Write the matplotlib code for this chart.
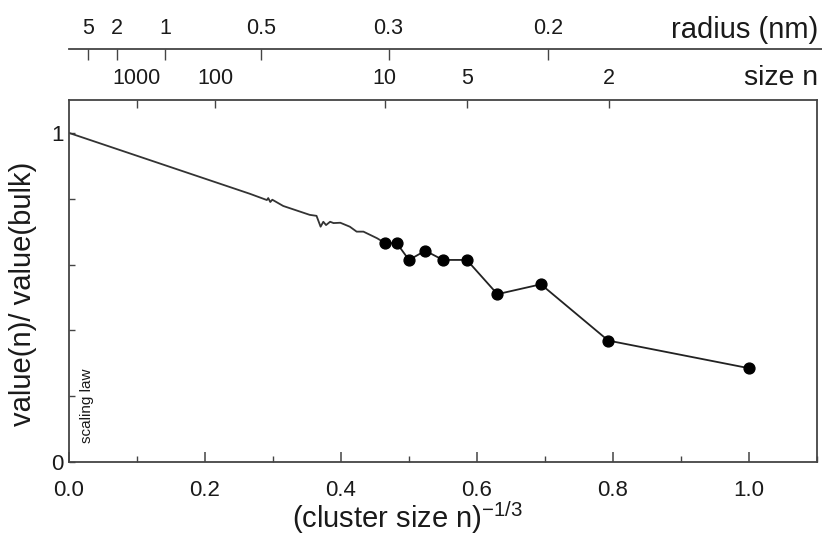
import matplotlib
matplotlib.use("Agg")
import matplotlib.pyplot as plt
from matplotlib.ticker import MultipleLocator, FixedLocator

plt.rcParams['font.family'] = ['Liberation Sans', 'DejaVu Sans']
plt.rcParams['mathtext.default'] = 'regular'

# cluster data: x = (cluster size n)^(-1/3), y = value(n)/value(bulk)
cluster_x = [0.465, 0.482, 0.500, 0.524, 0.550, 0.585, 0.630, 0.694, 0.793, 1.000]
cluster_y = [0.665, 0.665, 0.614, 0.642, 0.614, 0.614, 0.510, 0.540, 0.369, 0.285]

# scaling-law line (with noisy part) leading into the cluster data
line_x = [0.000, 0.266, 0.291, 0.293, 0.296, 0.299, 0.315, 0.354, 0.364, 0.370,
          0.374, 0.378, 0.384, 0.389, 0.399, 0.413, 0.423, 0.433, 0.453, 0.465]
line_y = [1.000, 0.815, 0.796, 0.802, 0.790, 0.797, 0.778, 0.751, 0.748, 0.715,
          0.730, 0.720, 0.730, 0.726, 0.727, 0.715, 0.700, 0.700, 0.680, 0.665]

# top axes
size_ticks = [1000, 100, 10, 5, 2]
size_tick_x = [0.100, 0.215, 0.464, 0.585, 0.794]
radius_ticks = ['5', '2', '1', '0.5', '0.3', '0.2']
radius_tick_x = [0.028, 0.071, 0.141, 0.282, 0.470, 0.705]

W, H = 822, 539
fig = plt.figure(figsize=(W / 100, H / 100), dpi=100)

L, R, B, T = 69, 817, 462, 100
ax = fig.add_axes([L / W, 1 - B / H, (R - L) / W, (B - T) / H])
ax.set_xlim(0, 1.1)
ax.set_ylim(0, 1.1)

col = '#1a1a1a'
ax.plot(line_x, line_y, color='#333333', lw=1.3, zorder=2)
ax.plot(cluster_x, cluster_y, color='#222222', lw=1.3, marker='o',
        markersize=7.8, markerfacecolor='black', markeredgecolor='black', zorder=3)

for s in ax.spines.values():
    s.set_color('#444444')
    s.set_linewidth(1.3)

ax.xaxis.set_minor_locator(MultipleLocator(0.1))
ax.set_xticks([0.0, 0.2, 0.4, 0.6, 0.8, 1.0])
ax.set_xticklabels(['0.0', '0.2', '0.4', '0.6', '0.8', '1.0'])
ax.yaxis.set_major_locator(FixedLocator([0, 1]))
ax.yaxis.set_minor_locator(FixedLocator([0.2, 0.4, 0.6, 0.8]))
ax.set_yticklabels(['0', '1'])

ax.tick_params(axis='x', which='major', direction='in', length=7, width=1.1,
               labelsize=16, pad=13, colors='#444444', labelcolor=col, top=False)
ax.tick_params(axis='x', which='minor', direction='in', length=4, width=1.0,
               colors='#444444', top=False)
ax.tick_params(axis='y', which='major', direction='in', length=4, width=1.0,
               labelsize=16, pad=4, colors='#444444', labelcolor=col, right=False)
ax.tick_params(axis='y', which='minor', direction='in', length=4, width=1.0,
               colors='#444444', right=False)

fig.text(408 / W, 1 - 518 / H, '(cluster size n)$^{-1/3}$', fontsize=21, color=col,
         ha='center', va='center')
fig.text(23 / W, 1 - 294 / H, 'value(n)/ value(bulk)', fontsize=21, color=col,
         ha='center', va='center', rotation=90)

ax.text(0.026, 0.17, 'scaling law', rotation=90, fontsize=11, color=col,
        ha='center', va='center')

# size n axis on the top spine
top = ax.secondary_xaxis('top')
top.set_xticks(size_tick_x)
top.set_xticklabels([str(v) for v in size_ticks])
top.tick_params(direction='in', length=6, width=1.0, labelsize=15.5, pad=8,
                colors='#444444', labelcolor=col)
top.spines['top'].set_visible(False)
fig.text(818 / W, 1 - 78 / H, 'size n', fontsize=20.5, color=col, ha='right', va='center')

# radius axis
ry = 49
rax = fig.add_axes([L / W, 1 - ry / H, (W - L) / W, 0.0001])
rax.set_xlim(0, 1.1 * (W - L) / (R - L))
rax.set_ylim(0, 1)
rax.patch.set_visible(False)
for k in ['left', 'right', 'bottom']:
    rax.spines[k].set_visible(False)
rax.spines['top'].set_color('#444444')
rax.spines['top'].set_linewidth(1.3)
rax.set_yticks([])
rax.xaxis.set_ticks_position('top')
rax.set_xticks(radius_tick_x)
rax.set_xticklabels(radius_ticks)
rax.tick_params(axis='x', direction='in', length=8, width=1.0, labelsize=15.5, pad=7,
                colors='#444444', labelcolor=col)
fig.text(818 / W, 1 - 30 / H, 'radius (nm)', fontsize=21, color=col, ha='right', va='center')

fig.savefig('out.png', dpi=100, facecolor='white')
